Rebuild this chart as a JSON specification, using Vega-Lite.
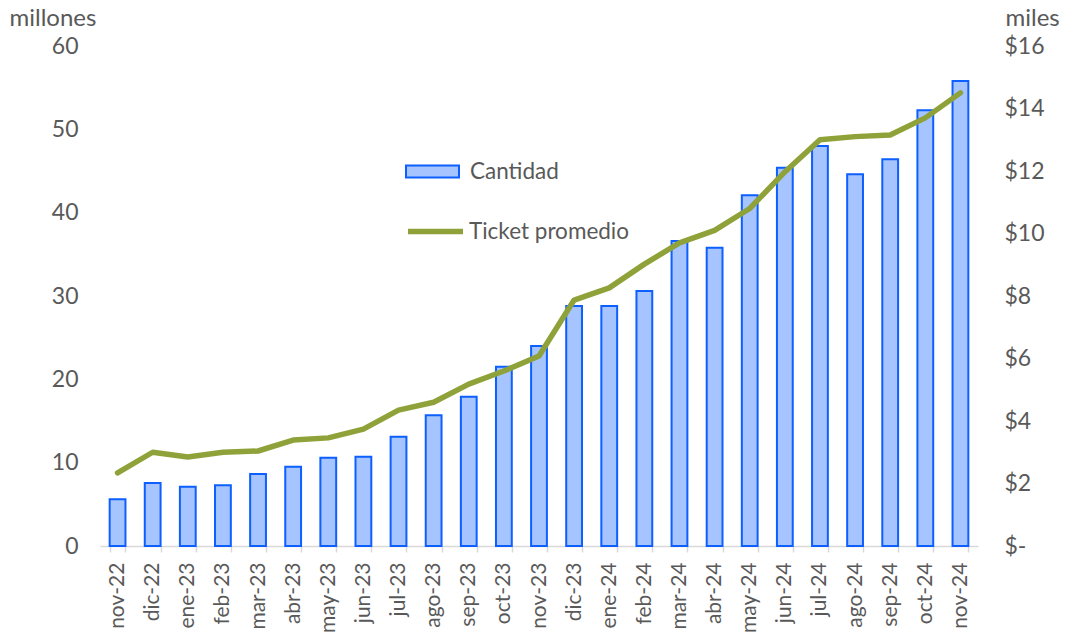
{
  "$schema": "https://vega.github.io/schema/vega-lite/v6.json",
  "autosize": "none",
  "width": 878,
  "height": 500,
  "padding": {"left": 100, "top": 46, "right": 92, "bottom": 88},
  "background": "white",
  "config": {
    "font": "Lato",
    "view": {"stroke": null},
    "axis": {"labelFont": "Lato", "titleFont": "Lato", "labelFontSize": 23, "titleFontSize": 24, "labelColor": "#595959", "titleColor": "#595959", "titleFontWeight": "normal", "grid": false},
    "legend": {"labelFont": "Lato", "labelFontSize": 22.5, "labelColor": "#595959", "labelLimit": 400}
  },
  "data": {
    "values": [
      {"mes": "nov-22", "cantidad": 5.6, "ticket": 2.34},
      {"mes": "dic-22", "cantidad": 7.55, "ticket": 3.0},
      {"mes": "ene-23", "cantidad": 7.1, "ticket": 2.85},
      {"mes": "feb-23", "cantidad": 7.3, "ticket": 3.0},
      {"mes": "mar-23", "cantidad": 8.65, "ticket": 3.04},
      {"mes": "abr-23", "cantidad": 9.5, "ticket": 3.39},
      {"mes": "may-23", "cantidad": 10.6, "ticket": 3.46},
      {"mes": "jun-23", "cantidad": 10.7, "ticket": 3.74},
      {"mes": "jul-23", "cantidad": 13.1, "ticket": 4.35},
      {"mes": "ago-23", "cantidad": 15.7, "ticket": 4.6},
      {"mes": "sep-23", "cantidad": 17.9, "ticket": 5.18},
      {"mes": "oct-23", "cantidad": 21.5, "ticket": 5.6},
      {"mes": "nov-23", "cantidad": 24.0, "ticket": 6.08},
      {"mes": "dic-23", "cantidad": 28.8, "ticket": 7.87},
      {"mes": "ene-24", "cantidad": 28.8, "ticket": 8.26},
      {"mes": "feb-24", "cantidad": 30.6, "ticket": 9.02},
      {"mes": "mar-24", "cantidad": 36.6, "ticket": 9.7},
      {"mes": "abr-24", "cantidad": 35.8, "ticket": 10.1},
      {"mes": "may-24", "cantidad": 42.1, "ticket": 10.8},
      {"mes": "jun-24", "cantidad": 45.4, "ticket": 11.97},
      {"mes": "jul-24", "cantidad": 48.0, "ticket": 13.0},
      {"mes": "ago-24", "cantidad": 44.6, "ticket": 13.1},
      {"mes": "sep-24", "cantidad": 46.4, "ticket": 13.15},
      {"mes": "oct-24", "cantidad": 52.3, "ticket": 13.7},
      {"mes": "nov-24", "cantidad": 55.8, "ticket": 14.5}
    ]
  },
  "encoding": {
    "x": {
      "field": "mes", "type": "nominal", "sort": null,
      "scale": {"paddingInner": 0.55, "paddingOuter": 0.275},
      "axis": {"title": null, "labelAngle": -90, "labelAlign": "right", "labelBaseline": "middle", "labelFontSize": 21, "domainColor": "#d9d9d9", "domainWidth": 1.5, "tickColor": "#d9d9d9", "tickWidth": 1.5, "tickSize": 6, "tickBand": "extent", "labelPadding": 10}
    }
  },
  "layer": [
    {
      "mark": {"type": "bar", "stroke": "#0d5fff", "strokeWidth": 2},
      "encoding": {
        "y": {
          "field": "cantidad", "type": "quantitative",
          "scale": {"domain": [0, 60], "nice": false},
          "axis": {"title": "millones", "values": [0, 10, 20, 30, 40, 50, 60], "domain": false, "ticks": false, "labelPadding": 22, "titleAngle": 0, "titleAlign": "left", "titleBaseline": "alphabetic", "titleX": -91, "titleY": -21}
        },
        "fill": {
          "datum": "Cantidad", "type": "nominal",
          "scale": {"range": ["#a6c4ff"]},
          "legend": {"title": null, "orient": "none", "legendX": 305, "legendY": 98, "symbolType": "M-1,-0.23H1V0.23H-1Z", "symbolSize": 2809, "symbolStrokeColor": "#0d5fff", "symbolStrokeWidth": 2, "labelOffset": 10}
        }
      }
    },
    {
      "mark": {"type": "line", "strokeWidth": 5.5, "strokeJoin": "round", "strokeCap": "round"},
      "encoding": {
        "y": {
          "field": "ticket", "type": "quantitative",
          "scale": {"domain": [0, 16], "nice": false},
          "axis": {"orient": "right", "title": "miles", "values": [0, 2, 4, 6, 8, 10, 12, 14, 16], "labelExpr": "datum.value == 0 ? '$-' : '$' + datum.value", "domain": false, "ticks": false, "labelPadding": 26, "titleAngle": 0, "titleAlign": "left", "titleBaseline": "alphabetic", "titleX": 27, "titleY": -21}
        },
        "stroke": {
          "datum": "Ticket promedio", "type": "nominal",
          "scale": {"range": ["#8fa23a"]},
          "legend": {"title": null, "orient": "none", "legendX": 305, "legendY": 155, "symbolType": "stroke", "symbolSize": 3025, "symbolStrokeWidth": 5.5, "labelOffset": 3}
        }
      }
    }
  ],
  "resolve": {"scale": {"y": "independent", "fill": "independent", "stroke": "independent"}}
}
